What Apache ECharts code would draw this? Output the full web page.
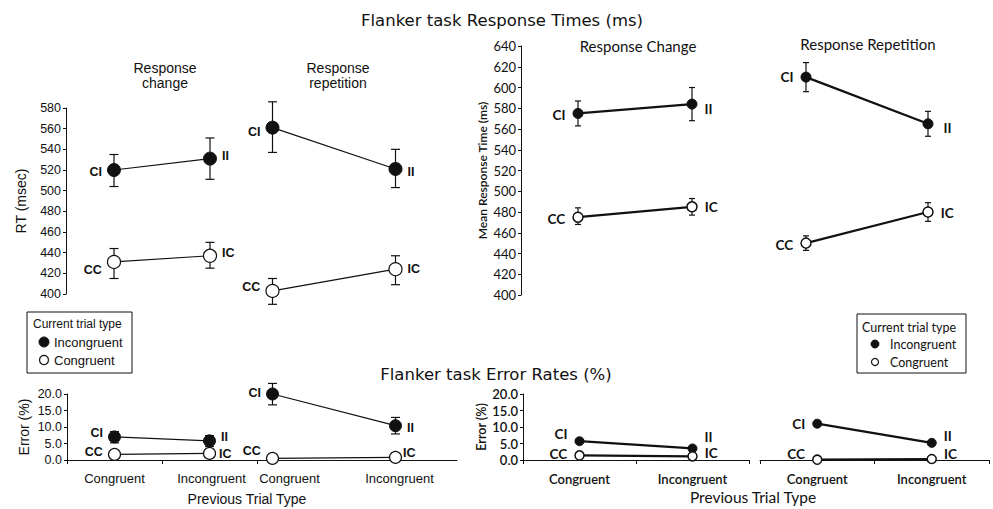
<!DOCTYPE html>
<html>
<head>
<meta charset="utf-8">
<script src="https://cdn.jsdelivr.net/npm/echarts@6/dist/echarts.min.js"></script>
<style>
html,body{margin:0;padding:0;background:#fff;}
#c{width:993px;height:509px;}
</style>
</head>
<body>
<div id="c"></div>
<script>
// ---------- DATA ----------
const categories = ['Congruent', 'Incongruent'];
const incLabels = ['CI', 'II'];
const conLabels = ['CC', 'IC'];

// Study A (left) response times, msec
const rtA_chg_inc = [520, 531];
const rtA_chg_inc_lo = [504, 511];
const rtA_chg_inc_hi = [535, 551];
const rtA_chg_con = [431, 437];
const rtA_chg_con_lo = [415, 425];
const rtA_chg_con_hi = [444, 450];
const rtA_rep_inc = [561, 521];
const rtA_rep_inc_lo = [537, 503];
const rtA_rep_inc_hi = [586, 540];
const rtA_rep_con = [403, 424];
const rtA_rep_con_lo = [390, 409];
const rtA_rep_con_hi = [415, 437];

// Study B (right) response times, ms
const rtB_chg_inc = [575, 584];
const rtB_chg_inc_lo = [563, 568];
const rtB_chg_inc_hi = [587, 600];
const rtB_chg_con = [475, 485];
const rtB_chg_con_lo = [468, 477];
const rtB_chg_con_hi = [484, 493];
const rtB_rep_inc = [610, 565];
const rtB_rep_inc_lo = [596, 553];
const rtB_rep_inc_hi = [624, 577];
const rtB_rep_con = [450, 480];
const rtB_rep_con_lo = [443, 471];
const rtB_rep_con_hi = [457, 489];

// Study A error rates, %
const erA_chg_inc = [7.0, 5.8];
const erA_chg_inc_lo = [5.2, 4.1];
const erA_chg_inc_hi = [8.6, 7.4];
const erA_chg_con = [1.7, 2.0];
const erA_rep_inc = [20.0, 10.4];
const erA_rep_inc_lo = [16.7, 7.9];
const erA_rep_inc_hi = [23.2, 12.9];
const erA_rep_con = [0.5, 0.8];

// Study B error rates, %
const erB_chg_inc = [5.7, 3.5];
const erB_chg_con = [1.4, 1.1];
const erB_rep_inc = [11.0, 5.2];
const erB_rep_con = [0.1, 0.3];

// ---------- STYLE / LAYOUT ----------
const FA = 'Liberation Sans, Arial, sans-serif';
const FB = 'Lato, Open Sans, sans-serif';

const panels = [
  { grid: {left: 66, top: 108, width: 192, height: 186}, y: {min: 400, max: 580, interval: 20}, showY: true, yName: 'RT (msec)', yGap: 38, font: FA, study: 'A', xAxis: false,
    inc: rtA_chg_inc, incLo: rtA_chg_inc_lo, incHi: rtA_chg_inc_hi, con: rtA_chg_con, conLo: rtA_chg_con_lo, conHi: rtA_chg_con_hi,
    off: [[0, 2], [0, -3], [0, 8], [0, -3]] },
  { grid: {left: 211, top: 108, width: 246, height: 186}, y: {min: 400, max: 580, interval: 20}, showY: false, font: FA, study: 'A', xAxis: false,
    inc: rtA_rep_inc, incLo: rtA_rep_inc_lo, incHi: rtA_rep_inc_hi, con: rtA_rep_con, conLo: rtA_rep_con_lo, conHi: rtA_rep_con_hi,
    off: [[0, 4], [0, 3], [0, -4], [0, 0]] },
  { grid: {left: 521, top: 46, width: 228, height: 249}, y: {min: 400, max: 640, interval: 20}, showY: true, yName: 'Mean Response Time (ms)', yGap: 33, font: FB, study: 'B', xAxis: false,
    inc: rtB_chg_inc, incLo: rtB_chg_inc_lo, incHi: rtB_chg_inc_hi, con: rtB_chg_con, conLo: rtB_chg_con_lo, conHi: rtB_chg_con_hi,
    off: [[0, 2], [0, 5], [0, 2], [0, 0]] },
  { grid: {left: 745, top: 46, width: 244, height: 249}, y: {min: 400, max: 640, interval: 20}, showY: false, font: FB, study: 'B', xAxis: false,
    inc: rtB_rep_inc, incLo: rtB_rep_inc_lo, incHi: rtB_rep_inc_hi, con: rtB_rep_con, conLo: rtB_rep_con_lo, conHi: rtB_rep_con_hi,
    off: [[0, 0], [3, 4], [0, 2], [0, 1]] },
  { grid: {left: 67, top: 394, width: 190, height: 66}, y: {min: 0, max: 20, interval: 5}, showY: true, yName: 'Error (%)', yGap: 36, font: FA, study: 'A', xAxis: true, xTicks: true, small: true,
    labelPad: [0, 4],
    inc: erA_chg_inc, incLo: erA_chg_inc_lo, incHi: erA_chg_inc_hi, con: erA_chg_con,
    off: [[0, -4], [0, -4], [0, -2], [-2, 1]] },
  { grid: {left: 211, top: 394, width: 246, height: 66}, y: {min: 0, max: 20, interval: 5}, showY: false, font: FA, study: 'A', xAxis: true, xTicks: false, small: true,
    labelPad: [34, 8],
    inc: erA_rep_inc, incLo: erA_rep_inc_lo, incHi: erA_rep_inc_hi, con: erA_rep_con,
    off: [[0, -1], [0, 2], [0, -7], [-4, -4]] },
  { grid: {left: 523, top: 394, width: 226, height: 66}, y: {min: 0, max: 20, interval: 5}, showY: true, yName: 'Error (%)', yGap: 33, font: FB, study: 'B', xAxis: true, xTicks: true, small: true,
    labelPad: [0, 0],
    inc: erB_chg_inc, con: erB_chg_con,
    off: [[0, -7], [0, -11], [0, -1], [0, -3]] },
  { grid: {left: 760, top: 394, width: 229, height: 66}, y: {min: 0, max: 20, interval: 5}, showY: false, font: FB, study: 'B', xAxis: true, xTicks: true, small: true,
    labelPad: [0, 0],
    inc: erB_rep_inc, con: erB_rep_con,
    off: [[0, 0], [0, -7], [0, -6], [0, -5]] }
];

const grids = [], xAxes = [], yAxes = [], series = [];

function labelCfg(p, text, pos, off) {
  const isA = p.study === 'A';
  return {
    show: true, position: pos, distance: isA ? 5 : 7, offset: off, formatter: text,
    fontFamily: p.font, fontWeight: 'bold', fontSize: isA ? 12.5 : 13.5, color: '#111', lineHeight: 13
  };
}

function errSeries(idx, lo, hi, p) {
  const isA = p.study === 'A';
  const capW = isA ? 4.5 : 3;
  const lw = 1.2;
  return {
    type: 'custom', xAxisIndex: idx, yAxisIndex: idx, clip: false, z: 1, silent: true,
    data: lo.map((l, i) => [i, l, hi[i]]),
    encode: {x: 0, y: [1, 2]},
    renderItem: function (params, api) {
      const x = api.value(0);
      const a = api.coord([x, api.value(2)]);
      const b = api.coord([x, api.value(1)]);
      const st = {stroke: '#111', lineWidth: lw};
      return {type: 'group', children: [
        {type: 'line', shape: {x1: a[0], y1: a[1], x2: b[0], y2: b[1]}, style: st},
        {type: 'line', shape: {x1: a[0] - capW, y1: a[1], x2: a[0] + capW, y2: a[1]}, style: st},
        {type: 'line', shape: {x1: b[0] - capW, y1: b[1], x2: b[0] + capW, y2: b[1]}, style: st}
      ]};
    }
  };
}

panels.forEach((p, idx) => {
  const isA = p.study === 'A';
  grids.push(Object.assign({containLabel: false, outerBoundsMode: 'none'}, p.grid));
  const pad = p.labelPad || [0, 0];
  xAxes.push({
    type: 'category', gridIndex: idx, boundaryGap: true,
    data: categories.map((c, i) => ({value: c, textStyle: {padding: [0, 0, 0, pad[i]]}})),
    show: p.xAxis,
    axisLine: {show: p.xAxis, lineStyle: {color: '#111', width: 1}},
    axisTick: {show: !!p.xTicks, length: 4, lineStyle: {color: '#111'}},
    axisLabel: {show: p.xAxis, margin: 12, fontFamily: p.font, fontSize: 13, color: '#111', fontWeight: isA ? 'normal' : 600},
    splitLine: {show: false}
  });
  yAxes.push({
    type: 'value', gridIndex: idx, min: p.y.min, max: p.y.max, interval: p.y.interval,
    show: p.showY,
    name: p.yName || '', nameLocation: 'middle', nameGap: p.yGap || 30,
    nameTextStyle: {fontFamily: p.font, fontSize: isA ? 14 : (p.small ? 12.5 : 12), color: '#111', fontWeight: isA ? 'normal' : 600},
    axisLine: {show: p.showY, lineStyle: {color: '#111', width: 1}},
    axisTick: {show: p.showY, length: 3, lineStyle: {color: '#111'}},
    axisLabel: {
      show: p.showY, margin: 5, fontFamily: p.font, color: '#111',
      fontSize: isA ? 12.5 : 13, fontWeight: (!isA && p.small) ? 600 : 'normal',
      formatter: p.small ? (v => v.toFixed(1)) : (v => String(v))
    },
    splitLine: {show: false}
  });

  const sym = isA ? (p.small ? 12 : 13) : (p.small ? 9 : 10);
  const lw = isA ? 1.2 : 2.2;

  if (p.incLo) series.push(errSeries(idx, p.incLo, p.incHi, p));
  if (p.conLo) series.push(errSeries(idx, p.conLo, p.conHi, p));

  series.push({
    type: 'line', name: 'Incongruent', xAxisIndex: idx, yAxisIndex: idx, clip: false, z: 3,
    symbol: 'circle', symbolSize: sym, lineStyle: {color: '#111', width: lw},
    itemStyle: {color: '#111', borderColor: '#111', borderWidth: 1},
    data: p.inc.map((v, i) => ({value: v, label: labelCfg(p, incLabels[i], i === 0 ? 'left' : 'right', p.off[i])})),
    animation: false
  });
  series.push({
    type: 'line', name: 'Congruent', xAxisIndex: idx, yAxisIndex: idx, clip: false, z: 3,
    symbol: 'circle', symbolSize: sym, lineStyle: {color: '#111', width: lw},
    itemStyle: {color: '#fff', borderColor: '#111', borderWidth: isA ? 1.2 : 1.5},
    data: p.con.map((v, i) => ({value: v, label: labelCfg(p, conLabels[i], i === 0 ? 'left' : 'right', p.off[i + 2])})),
    animation: false
  });
});

function txt(x, y, text, font, size, align, weight, extra) {
  return Object.assign({
    type: 'text', x: x, y: y, silent: true,
    style: {text: text, fontFamily: font, fontSize: size, fontWeight: weight || 'normal', fill: '#111',
      align: align || 'center', verticalAlign: 'middle'}
  }, extra || {});
}

const graphics = [
  txt(502, 20, 'Flanker task Response Times (ms)', 'DejaVu Sans, Verdana, sans-serif', 16.5),
  txt(496, 374, 'Flanker task Error Rates (%)', 'DejaVu Sans, Verdana, sans-serif', 16.5),
  txt(165, 68, 'Response', FA, 14),
  txt(165, 83, 'change', FA, 14),
  txt(338, 68, 'Response', FA, 14),
  txt(338, 83, 'repetition', FA, 14),
  txt(638, 46, 'Response Change', FB, 15),
  txt(868, 44, 'Response Repetition', FB, 15),
  txt(247, 499, 'Previous Trial Type', FA, 14),
  txt(753, 497, 'Previous Trial Type', FB, 15.5),
  // left legend
  {type: 'rect', shape: {x: 27, y: 312, width: 105, height: 61}, style: {fill: '#fff', stroke: '#111', lineWidth: 1}, silent: true},
  txt(33, 324, 'Current trial type', FA, 12, 'left'),
  {type: 'circle', shape: {cx: 44, cy: 342, r: 5}, style: {fill: '#111', stroke: '#111'}, silent: true},
  txt(54, 342, 'Incongruent', FA, 13, 'left'),
  {type: 'circle', shape: {cx: 44, cy: 360, r: 4.5}, style: {fill: '#fff', stroke: '#111', lineWidth: 1.2}, silent: true},
  txt(54, 360, 'Congruent', FA, 13, 'left'),
  // right legend
  {type: 'rect', shape: {x: 857, y: 314, width: 109, height: 59}, style: {fill: '#fff', stroke: '#111', lineWidth: 1}, silent: true},
  txt(862, 327, 'Current trial type', FB, 12.5, 'left'),
  {type: 'circle', shape: {cx: 875, cy: 344, r: 4}, style: {fill: '#111', stroke: '#111'}, silent: true},
  txt(890, 344, 'Incongruent', FB, 12.5, 'left'),
  {type: 'circle', shape: {cx: 875, cy: 362, r: 3.5}, style: {fill: '#fff', stroke: '#111', lineWidth: 1.2}, silent: true},
  txt(890, 362, 'Congruent', FB, 12.5, 'left')
];

const chart = echarts.init(document.getElementById('c'), null, {renderer: 'svg'});
chart.setOption({
  backgroundColor: '#fff',
  animation: false,
  grid: grids,
  xAxis: xAxes,
  yAxis: yAxes,
  series: series,
  graphic: graphics
});
</script>
</body>
</html>
